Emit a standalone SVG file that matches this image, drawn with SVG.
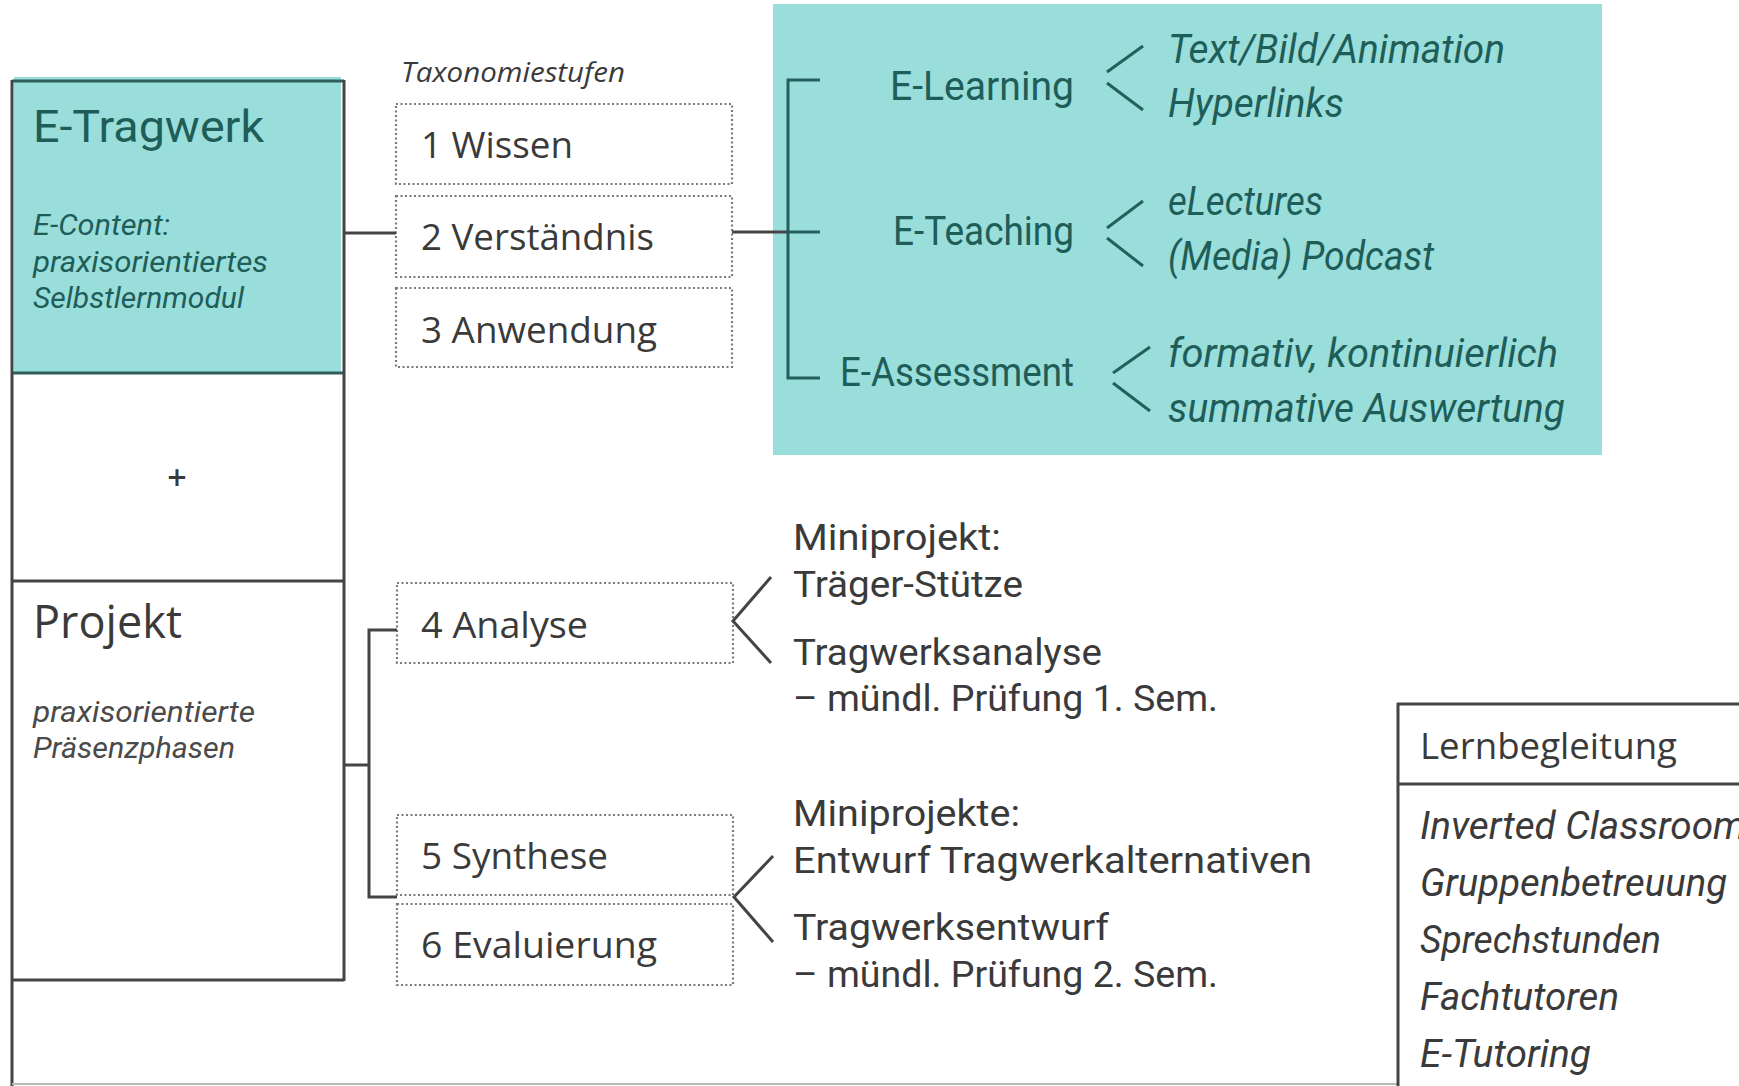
<svg xmlns="http://www.w3.org/2000/svg" width="1739" height="1086" viewBox="0 0 1739 1086">
<style>
.din{font-family:Roboto,"Open Sans",sans-serif;}
.os{font-family:"Open Sans","Noto Sans",sans-serif;}
.it{font-style:italic;}
.tealtxt{fill:#1f5d59;}
.gray{fill:#3a3a3a;}
.ln{stroke:#444;stroke-width:3;fill:none;}
.tln{stroke:#245f5b;stroke-width:3;fill:none;}
.dot{fill:none;stroke:#7a7a7a;stroke-width:2.2;stroke-dasharray:2 2.5;}
</style>
<rect width="1739" height="1086" fill="#ffffff"/>
<rect x="773" y="4" width="829" height="451" fill="#99deda"/>

<g id="e-tragwerk">
<rect x="14" y="77" width="327" height="296" fill="#99deda"/>
<line x1="12" y1="81" x2="344" y2="81" stroke="#2f5e5b" stroke-width="3"/>
<line x1="12" y1="373" x2="344" y2="373" stroke="#2f5e5b" stroke-width="3"/>
<text x="33" y="142" class="din tealtxt" font-size="44" textLength="231" lengthAdjust="spacingAndGlyphs">E-Tragwerk</text>
<text x="33" y="235" class="din it tealtxt" font-size="30" textLength="137" lengthAdjust="spacingAndGlyphs">E-Content:</text>
<text x="33" y="272" class="din it tealtxt" font-size="30" textLength="235" lengthAdjust="spacingAndGlyphs">praxisorientiertes</text>
<text x="33" y="308" class="din it tealtxt" font-size="30" textLength="211" lengthAdjust="spacingAndGlyphs">Selbstlernmodul</text>
</g>

<g id="frame">
<line x1="12" y1="80" x2="12" y2="1086" class="ln"/>
<line x1="344" y1="80" x2="344" y2="981" class="ln"/>
<line x1="12" y1="581" x2="344" y2="581" class="ln"/>
<line x1="12" y1="980" x2="344" y2="980" class="ln"/>
<line x1="12" y1="1084" x2="1398" y2="1084" stroke="#b8b8b8" stroke-width="2"/>
</g>

<g id="plus">
<text x="177" y="490" class="os gray" font-size="34" font-weight="600" text-anchor="middle">+</text>
</g>

<g id="projekt">
<text x="33" y="638" class="os gray" font-size="45" textLength="149" lengthAdjust="spacingAndGlyphs">Projekt</text>
<text x="33" y="722" class="din it" fill="#4a4a4a" font-size="29" textLength="222" lengthAdjust="spacingAndGlyphs">praxisorientierte</text>
<text x="33" y="758" class="din it" fill="#4a4a4a" font-size="29" textLength="202" lengthAdjust="spacingAndGlyphs">Präsenzphasen</text>
</g>

<g id="taxonomie">
<text x="401" y="82" class="os it gray" font-size="27" textLength="224" lengthAdjust="spacingAndGlyphs">Taxonomiestufen</text>
</g>

<g id="stufe1"><rect x="396" y="104" width="336" height="80" class="dot"/><text x="421" y="158" class="os gray" font-size="36" textLength="152" lengthAdjust="spacingAndGlyphs">1 Wissen</text></g>
<g id="stufe2"><rect x="396" y="196" width="336" height="81" class="dot"/><text x="421" y="250" class="os gray" font-size="36" textLength="233" lengthAdjust="spacingAndGlyphs">2 Verständnis</text></g>
<g id="stufe3"><rect x="396" y="288" width="336" height="79" class="dot"/><text x="421" y="343" class="os gray" font-size="36" textLength="236" lengthAdjust="spacingAndGlyphs">3 Anwendung</text></g>
<g id="stufe4"><rect x="397" y="583" width="336" height="80" class="dot"/><text x="421" y="638" class="os gray" font-size="36" textLength="167" lengthAdjust="spacingAndGlyphs">4 Analyse</text></g>
<g id="stufe5"><rect x="397" y="815" width="336" height="80" class="dot"/><text x="421" y="869" class="os gray" font-size="36" textLength="187" lengthAdjust="spacingAndGlyphs">5 Synthese</text></g>
<g id="stufe6"><rect x="397" y="904" width="336" height="81" class="dot"/><text x="421" y="958" class="os gray" font-size="36" textLength="236" lengthAdjust="spacingAndGlyphs">6 Evaluierung</text></g>

<g id="e-learning">
<text x="1074" y="100" class="din tealtxt" font-size="40" text-anchor="end" textLength="184" lengthAdjust="spacingAndGlyphs">E-Learning</text>
<text x="1168" y="63" class="din it tealtxt" font-size="40" textLength="337" lengthAdjust="spacingAndGlyphs">Text/Bild/Animation</text>
<text x="1168" y="117" class="din it tealtxt" font-size="40" textLength="176" lengthAdjust="spacingAndGlyphs">Hyperlinks</text>
</g>
<g id="e-teaching">
<text x="1074" y="245" class="din tealtxt" font-size="40" text-anchor="end" textLength="181" lengthAdjust="spacingAndGlyphs">E-Teaching</text>
<text x="1168" y="215" class="din it tealtxt" font-size="40" textLength="155" lengthAdjust="spacingAndGlyphs">eLectures</text>
<text x="1168" y="270" class="din it tealtxt" font-size="40" textLength="266" lengthAdjust="spacingAndGlyphs">(Media) Podcast</text>
</g>
<g id="e-assessment">
<text x="1074" y="386" class="din tealtxt" font-size="40" text-anchor="end" textLength="234" lengthAdjust="spacingAndGlyphs">E-Assessment</text>
<text x="1168" y="367" class="din it tealtxt" font-size="40" textLength="390" lengthAdjust="spacingAndGlyphs">formativ, kontinuierlich</text>
<text x="1168" y="422" class="din it tealtxt" font-size="40" textLength="397" lengthAdjust="spacingAndGlyphs">summative Auswertung</text>
</g>

<g id="analyse-text">
<text x="793" y="550" class="din gray" font-size="37" textLength="208" lengthAdjust="spacingAndGlyphs">Miniprojekt:</text>
<text x="793" y="597" class="din gray" font-size="37" textLength="230" lengthAdjust="spacingAndGlyphs">Träger-Stütze</text>
<text x="793" y="665" class="din gray" font-size="37" textLength="309" lengthAdjust="spacingAndGlyphs">Tragwerksanalyse</text>
<text x="793" y="711" class="din gray" font-size="37" textLength="425" lengthAdjust="spacingAndGlyphs">– mündl. Prüfung 1. Sem.</text>
</g>
<g id="synthese-text">
<text x="793" y="826" class="din gray" font-size="37" textLength="227" lengthAdjust="spacingAndGlyphs">Miniprojekte:</text>
<text x="793" y="873" class="din gray" font-size="37" textLength="519" lengthAdjust="spacingAndGlyphs">Entwurf Tragwerkalternativen</text>
<text x="793" y="940" class="din gray" font-size="37" textLength="316" lengthAdjust="spacingAndGlyphs">Tragwerksentwurf</text>
<text x="793" y="987" class="din gray" font-size="37" textLength="425" lengthAdjust="spacingAndGlyphs">– mündl. Prüfung 2. Sem.</text>
</g>

<g id="lernbegleitung">
<line x1="1398" y1="703" x2="1398" y2="1086" class="ln"/>
<line x1="1397" y1="704" x2="1739" y2="704" class="ln"/>
<line x1="1397" y1="784" x2="1739" y2="784" class="ln"/>
<text x="1420" y="759" class="os gray" font-size="36" textLength="257" lengthAdjust="spacingAndGlyphs">Lernbegleitung</text>
<text x="1420" y="839" class="din it gray" font-size="38" textLength="326" lengthAdjust="spacingAndGlyphs">Inverted Classroom</text>
<text x="1420" y="896" class="din it gray" font-size="38" textLength="307" lengthAdjust="spacingAndGlyphs">Gruppenbetreuung</text>
<text x="1420" y="953" class="din it gray" font-size="38" textLength="241" lengthAdjust="spacingAndGlyphs">Sprechstunden</text>
<text x="1420" y="1010" class="din it gray" font-size="38" textLength="199" lengthAdjust="spacingAndGlyphs">Fachtutoren</text>
<text x="1420" y="1067" class="din it gray" font-size="38" textLength="171" lengthAdjust="spacingAndGlyphs">E-Tutoring</text>
</g>

<g id="connectors">
<line x1="344" y1="233" x2="396" y2="233" class="ln"/>
<line x1="732" y1="232" x2="788" y2="232" class="ln"/>
<path d="M820,80 H788 V378 H820" class="tln"/>
<line x1="788" y1="232" x2="820" y2="232" class="tln"/>
<line x1="1107" y1="72" x2="1143" y2="46" class="tln"/>
<line x1="1107" y1="83" x2="1143" y2="110" class="tln"/>
<line x1="1107" y1="228" x2="1143" y2="201" class="tln"/>
<line x1="1107" y1="238" x2="1143" y2="266" class="tln"/>
<line x1="1113" y1="373" x2="1150" y2="347" class="tln"/>
<line x1="1113" y1="383" x2="1150" y2="411" class="tln"/>
<line x1="344" y1="765" x2="369" y2="765" class="ln"/>
<path d="M397,630 H369 V897 H397" class="ln"/>
<path d="M771,577 L733,621 L771,663" class="ln"/>
<path d="M773,856 L734,897 L773,942" class="ln"/>
</g>
</svg>
